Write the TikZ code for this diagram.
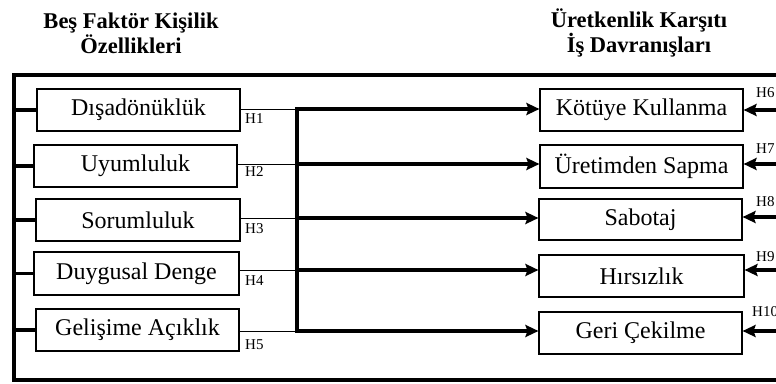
\documentclass[tikz,border=0pt]{standalone}
\usepackage{fontspec}
\setmainfont{Liberation Serif}
\usetikzlibrary{arrows.meta}
\begin{document}
\begin{tikzpicture}[x=1pt,y=-1pt,
  box/.style={draw, line width=1.1pt, rectangle, inner sep=0pt, font=\fontsize{24}{28}\selectfont},
  head/.style={align=center, font=\fontsize{22.5}{25}\selectfont\bfseries},
  hlab/.style={inner sep=0pt, font=\fontsize{15}{16}\selectfont},
  frame/.style={line width=3.2pt},
  thinline/.style={line width=1pt},
  bar/.style={line width=3.6pt},
  arr/.style={line width=3.6pt, -{Stealth[length=13pt,width=12pt,inset=2pt]}}
]
\useasboundingbox (0,0) rectangle (776,383);
\clip (0,0) rectangle (776,383);

% headings
\node[head] (hl) at (131,33) {Beş Faktör Kişilik\\Özellikleri};
\node[head] (hr) at (639,33) {Üretkenlik Karşıtı\\İş Davranışları};

% left boxes
\node[box, minimum width=203pt, minimum height=42pt] (l1) at (138.5,110) {Dışadönüklük};
\node[box, minimum width=203pt, minimum height=42pt] (l2) at (135.5,166) {Uyumluluk};
\node[box, minimum width=204pt, minimum height=42pt] (l3) at (138,220) {Sorumluluk};
\node[box, minimum width=205pt, minimum height=43pt] (l4) at (136.5,273.5) {Duygusal Denge};
\node[box, minimum width=203pt, minimum height=42pt] (l5) at (137.5,330) {Gelişime Açıklık};

% right boxes
\node[box, minimum width=203pt, minimum height=42pt] (r1) at (641.5,110) {Kötüye Kullanma};
\node[box, minimum width=203pt, minimum height=43pt] (r2) at (641.5,166.5) {Üretimden Sapma};
\node[box, minimum width=203pt, minimum height=41pt] (r3) at (640.5,219.5) {Sabotaj};
\node[box, minimum width=205pt, minimum height=42pt] (r4) at (641.5,276) {Hırsızlık};
\node[box, minimum width=203pt, minimum height=42pt] (r5) at (640.5,333) {Geri Çekilme};

% outer frame
\coordinate (ftr) at (800,75);
\coordinate (ftl) at (14,75);
\coordinate (fbl) at (14,380);
\coordinate (fbr) at (800,380);
\draw[frame] (ftr) -- (ftl) -- (fbl) -- (fbr);
\foreach \i in {1,...,5} {
  \draw[frame] (ftl |- l\i.west) -- (l\i.west);
}

% junctions on the bar
\coordinate (j1) at (297,109);
\coordinate (j2) at (297,164);
\coordinate (j3) at (297,218);
\coordinate (j4) at (297,270);
\coordinate (j5) at (297,331);
\foreach \i in {1,...,5} {
  \draw[thinline] (l\i.east |- j\i) -- (j\i);
  \draw[arr] (j\i) -- (r\i.west |- j\i);
}
\draw[bar, line cap=rect] (j1) -- (j5);

% H labels left
\foreach \i/\y in {1/113,2/166,3/223,4/275,5/339} {
  \node[hlab, anchor=north west] (hl\i) at (245,\y) {H\i};
}

% right incoming arrows
\coordinate (e1) at (800,110);
\coordinate (e2) at (800,164);
\coordinate (e3) at (800,217);
\coordinate (e4) at (800,270);
\coordinate (e5) at (800,331);
\foreach \i in {1,...,5} {
  \draw[arr] (e\i) -- (r\i.east |- e\i);
}
\node[hlab, anchor=north west] (h6) at (756,87) {H6};
\node[hlab, anchor=north west] (h7) at (756,143) {H7};
\node[hlab, anchor=north west] (h8) at (756,196) {H8};
\node[hlab, anchor=north west] (h9) at (756,251) {H9};
\node[hlab, anchor=north west] (h10) at (752,306) {H10};
\end{tikzpicture}
\end{document}
